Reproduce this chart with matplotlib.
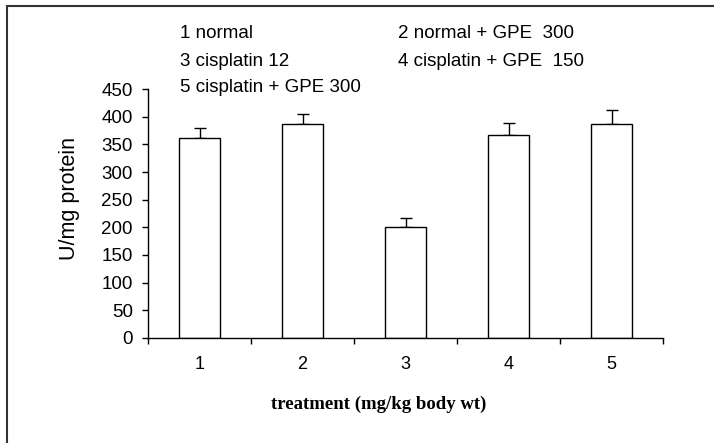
import numpy as np
import matplotlib.pyplot as plt
from matplotlib.patches import Rectangle

groups = ["1", "2", "3", "4", "5"]
values = [361, 387, 200, 367, 387]
errors = [19, 19, 16, 22, 26]
legend_lines = [
    ("1 normal", "2 normal + GPE  300"),
    ("3 cisplatin 12", "4 cisplatin + GPE  150"),
    ("5 cisplatin + GPE 300", ""),
]

plt.rcParams["font.family"] = ["Liberation Sans", "DejaVu Sans"]

fig = plt.figure(figsize=(7.14, 4.43), dpi=100)
ax = fig.add_axes([148 / 714, 105.3 / 443, 515.3 / 714, 248.4 / 443])

x = np.arange(1, len(groups) + 1)
ax.bar(x, values, width=0.4, color="white", edgecolor="black", linewidth=1.0, zorder=2)
ax.errorbar(x, values, yerr=[np.zeros(len(errors)), errors], fmt="none",
            ecolor="black", elinewidth=1.0, capsize=4.5, capthick=1.0, zorder=1)

ax.set_xlim(0.5, 5.5)
ax.set_ylim(0, 450)
ax.set_yticks(range(0, 451, 50))
ax.set_xticks(x)
ax.set_xticklabels(groups)
ax.set_xticks(np.arange(0.5, 5.6, 1), minor=True)
ax.tick_params(axis="x", which="major", length=0, pad=13, labelsize=13)
ax.tick_params(axis="x", which="minor", length=4, width=1.0, direction="out")
ax.tick_params(axis="y", length=4.5, width=1.0, pad=6.5, labelsize=13.5)

for s in ["top", "right"]:
    ax.spines[s].set_visible(False)
for s in ["left", "bottom"]:
    ax.spines[s].set_linewidth(1.0)

fig.text(70 / 714, 1 - 199 / 443, "U/mg protein", rotation=90, ha="center", va="center",
         fontsize=15.5)

fig.text(379 / 714, 1 - 409 / 443, "treatment (mg/kg body wt)", ha="center", va="baseline",
         fontsize=13.5, fontweight="bold", family="Liberation Serif")

row_y = [38.5, 65.5, 92.3]
for (left, right), yy in zip(legend_lines, row_y):
    fig.text(180 / 714, 1 - yy / 443, left, ha="left", va="baseline", fontsize=13.5)
    if right:
        fig.text(398 / 714, 1 - yy / 443, right, ha="left", va="baseline", fontsize=13.5)

fig.patches.append(Rectangle((7 / 714, -0.1), 1.2, 1 - 6 / 443 + 0.1, transform=fig.transFigure,
                             fill=False, edgecolor="#333333", linewidth=1.5))

fig.savefig("out.png", dpi=100)
